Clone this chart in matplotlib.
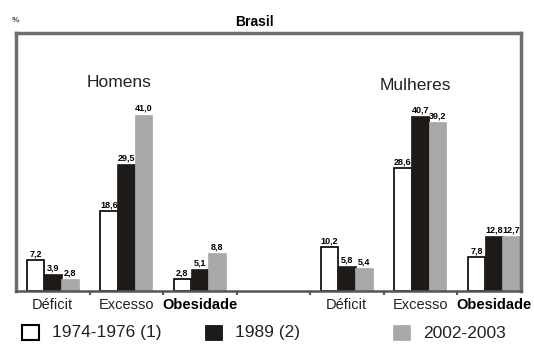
import matplotlib.pyplot as plt
import numpy as np
from matplotlib.patches import Rectangle

plt.rcParams['font.family'] = ['Liberation Sans', 'DejaVu Sans']

# data (%)
periods = ['1974-1976 (1)', '1989 (2)', '2002-2003']
indicators = ['Déficit', 'Excesso', 'Obesidade']
homens_1974 = [7.2, 18.6, 2.8]
homens_1989 = [3.9, 29.5, 5.1]
homens_2002 = [2.8, 41.0, 8.8]
mulheres_1974 = [10.2, 28.6, 7.8]
mulheres_1989 = [5.8, 40.7, 12.8]
mulheres_2002 = [5.4, 39.2, 12.7]

colors = ['white', '#1e1a18', '#a8a8a8']
edges = ['black', '#1e1a18', '#a8a8a8']

fig = plt.figure(figsize=(5.34, 3.49), dpi=100)
ax = fig.add_axes([16 / 534, 1 - 291 / 349, 505 / 534, 258 / 349])

# men on positions 0..2, an empty slot at 3, women on 4..6
x_men = np.arange(3)
x_wom = np.arange(3) + 4
series = [(homens_1974, mulheres_1974), (homens_1989, mulheres_1989),
          (homens_2002, mulheres_2002)]

w = 0.24
off = 0.235
for i, (men, wom) in enumerate(series):
    xs = np.concatenate([x_men, x_wom]) + (i - 1) * off
    vals = list(men) + list(wom)
    ax.bar(xs, vals, width=w, color=colors[i], edgecolor=edges[i],
           linewidth=1.2 if i == 0 else 0.5, zorder=2)
    for xx, v in zip(xs, vals):
        ax.text(xx, v + 0.4, f"{v:.1f}".replace('.', ','), ha='center',
                va='bottom', fontsize=6.5, fontweight='bold', zorder=3)

ax.text(0.9, 48.6, 'Homens', ha='center', va='center', fontsize=12.5, color='#222222')
ax.text(4.93, 47.9, 'Mulheres', ha='center', va='center', fontsize=12.5, color='#222222')

ax.set_xlim(-0.5, 6.37)
ax.set_ylim(0, 60)
ax.set_yticks([])

ax.set_xticks(list(x_men) + [3] + list(x_wom))
labels = indicators + [''] + indicators
ax.set_xticklabels(labels, fontsize=10.5, color='#222222')
for lab in ax.get_xticklabels():
    if lab.get_text() == 'Obesidade':
        lab.set_fontweight('heavy')
        lab.set_color('black')
ax.tick_params(axis='x', which='major', length=0, pad=5)
ax.set_xticks([0.5, 1.5, 2.5, 3.5, 4.5, 5.5], minor=True)
ax.tick_params(axis='x', which='minor', length=3, width=1.5, color='#555555')

for side in ['left', 'top', 'right']:
    ax.spines[side].set_color('#6e6e6e')
    ax.spines[side].set_linewidth(2.5)
ax.spines['bottom'].set_color('#555555')
ax.spines['bottom'].set_linewidth(1.8)

fig.text(254 / 534, 1 - 22 / 349, 'Brasil', ha='center', va='center',
         fontsize=10, fontweight='bold')
fig.text(12 / 534, 1 - 20 / 349, '%', ha='left', va='center', fontsize=6,
         fontweight='bold', color='#444444')

# legend drawn by hand in figure pixels
leg_x = [22, 205, 393]
for i, p in enumerate(periods):
    fig.patches.append(Rectangle((leg_x[i] / 534, 1 - 340 / 349), 17 / 534, 15 / 349,
                                 transform=fig.transFigure, facecolor=colors[i],
                                 edgecolor='black' if i < 2 else '#a8a8a8',
                                 linewidth=1.5 if i == 0 else 0.5))
    fig.text((leg_x[i] + 30) / 534, 1 - 333 / 349, p, ha='left', va='center',
             fontsize=12.5, color='#222222')

fig.savefig('out.png', dpi=100)
